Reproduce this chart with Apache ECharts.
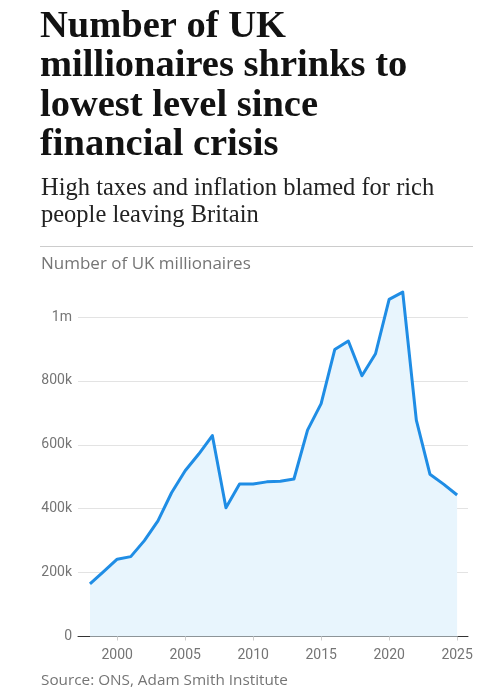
<!DOCTYPE html>
<html>
<head>
<meta charset="utf-8">
<script src="https://cdn.jsdelivr.net/npm/echarts@6/dist/echarts.min.js"></script>
<style>
html,body{margin:0;padding:0;background:#fff;}
#c{width:498px;height:694px;}
</style>
</head>
<body>
<div id="c"></div>
<script>
const years = [1998,1999,2000,2001,2002,2003,2004,2005,2006,2007,2008,2009,2010,2011,2012,2013,2014,2015,2016,2017,2018,2019,2020,2021,2022,2023,2024,2025];
const millionaires = [165000,203000,242000,250000,300000,362000,450000,519000,571000,629000,403000,477000,477000,484000,486000,493000,646000,729000,898000,925000,816000,885000,1055000,1078000,677000,508000,477000,443000];
const xTicks = [2000,2005,2010,2015,2020,2025];
const yTicks = [0,200000,400000,600000,800000,1000000];
const yTickLabels = ['0','200k','400k','600k','800k','1m'];

const chart = echarts.init(document.getElementById('c'), null, {renderer:'canvas'});
const seriesData = years.map((y,i)=>[y, millionaires[i]]);
const gray = '#757575';
chart.setOption({
  animation:false,
  backgroundColor:'#ffffff',
  title:[
    {text:'Number of UK\nmillionaires shrinks to\nlowest level since\nfinancial crisis', left:40, top:7, padding:0,
     textStyle:{fontFamily:'Liberation Serif', fontWeight:'bold', fontSize:38.5, lineHeight:39.5, color:'#121212'}},
    {text:'High taxes and inflation blamed for rich\npeople leaving Britain', left:41, top:175.5, padding:0,
     textStyle:{fontFamily:'Liberation Serif', fontWeight:'normal', fontSize:24.5, lineHeight:27, color:'#222222'}},
    {text:'Number of UK millionaires', left:41, top:255.5, padding:0,
     textStyle:{fontFamily:'Open Sans', fontWeight:'normal', fontSize:17, color:gray}},
    {text:'Source: ONS, Adam Smith Institute', left:41, top:673, padding:0,
     textStyle:{fontFamily:'Open Sans', fontWeight:'normal', fontSize:15.3, color:gray}}
  ],
  graphic:[{type:'line', shape:{x1:40,y1:246.5,x2:473,y2:246.5}, style:{stroke:'#cccccc', lineWidth:1}}],
  grid:{left:78, right:30, top:317, bottom:57.5, containLabel:false},
  xAxis:{
    type:'value', min:1997.12, max:2025.8,
    axisLine:{show:true, onZero:false, lineStyle:{color:'#333333', width:1}},
    axisTick:{show:true, customValues:xTicks, length:4, lineStyle:{color:'#cccccc'}},
    axisLabel:{customValues:xTicks, color:gray, fontFamily:'Roboto', fontSize:14, margin:12, formatter:v=>String(v)},
    splitLine:{show:false}
  },
  yAxis:{
    type:'value', min:0, max:1000000, interval:200000,
    axisLine:{show:false}, axisTick:{show:false},
    axisLabel:{color:gray, fontFamily:'Roboto', fontSize:14, margin:6,
      formatter:v=>{const i=yTicks.indexOf(v); return i>=0?yTickLabels[i]:'';}},
    splitLine:{show:true, lineStyle:{color:'#e3e3e3', width:1}}
  },
  series:[{
    type:'line', data:seriesData, clip:false, symbol:'none', smooth:false,
    lineStyle:{color:'#1f8de5', width:3, join:'round'},
    areaStyle:{color:'#e8f5fd', opacity:1},
    z:3
  }]
});
</script>
</body>
</html>
